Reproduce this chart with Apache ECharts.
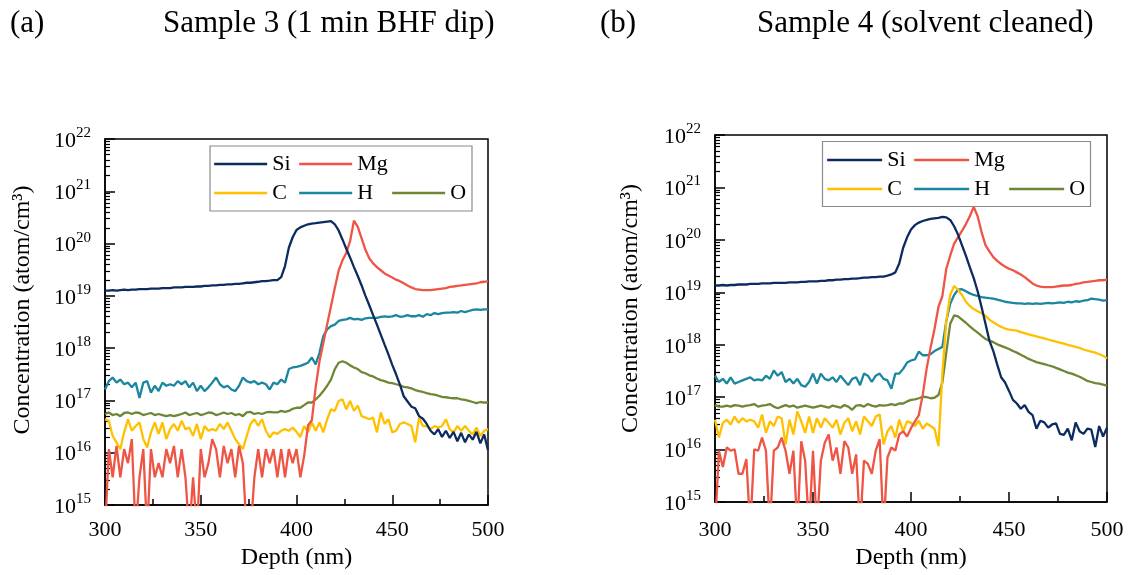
<!DOCTYPE html>
<html>
<head>
<meta charset="utf-8">
<script src="https://cdn.jsdelivr.net/npm/echarts@6/dist/echarts.min.js"></script>
<style>
html,body{margin:0;padding:0;background:#fff;}
#c{width:1130px;height:575px;}
</style>
</head>
<body>
<div id="c"></div>
<script>
// Depth grid (nm)
const depth = [300,302,304,306,308,310,312,314,316,318,320,322,324,326,328,330,332,334,336,338,
340,342,344,346,348,350,352,354,356,358,360,362,364,366,368,370,372,374,376,378,
380,382,384,386,388,390,392,394,396,398,400,402,404,406,408,410,412,414,416,418,
420,422,424,426,428,430,432,434,436,438,440,442,444,446,448,450,452,454,456,458,
460,462,464,466,468,470,472,474,476,478,480,482,484,486,488,490,492,494,496,498,500];

const seriesNames = ['Si','Mg','C','H','O'];
const panelTitles = ['Sample 3 (1 min BHF dip)','Sample 4 (solvent cleaned)'];
const panelTags = ['(a)','(b)'];

// Sample 3 (a), atom/cm3
const siA = [1.26e19,1.26e19,1.29e19,1.26e19,1.29e19,1.32e19,1.29e19,1.32e19,1.32e19,1.35e19,
1.35e19,1.35e19,1.38e19,1.38e19,1.38e19,1.41e19,1.41e19,1.41e19,1.45e19,1.45e19,
1.45e19,1.48e19,1.48e19,1.48e19,1.51e19,1.51e19,1.55e19,1.55e19,1.58e19,1.58e19,
1.62e19,1.62e19,1.66e19,1.66e19,1.70e19,1.70e19,1.74e19,1.78e19,1.78e19,1.82e19,
1.86e19,1.91e19,1.91e19,1.95e19,2.0e19,2.0e19,2.29e19,3.72e19,8.32e19,1.32e20,
1.82e20,2.04e20,2.19e20,2.34e20,2.40e20,2.45e20,2.51e20,2.57e20,2.63e20,2.69e20,
2.34e20,1.78e20,1.20e20,7.94e19,5.37e19,3.55e19,2.40e19,1.58e19,1.0e19,6.61e18,
4.27e18,2.82e18,1.82e18,1.17e18,7.59e17,4.79e17,3.16e17,2.0e17,1.20e17,9.55e16,
7.59e16,7.08e16,5.01e16,4.47e16,3.55e16,2.63e16,2.24e16,2.82e16,2.0e16,2.63e16,
1.91e16,2.51e16,1.66e16,2.40e16,1.58e16,2.24e16,1.78e16,2.51e16,1.51e16,2.24e16,
1.12e16];
const mgA = [3e14,1.17e16,3.39e15,1.35e16,3.39e15,1.17e16,6.31e15,1.82e16,3e14,3.39e15,
1.17e16,3e14,1.17e16,3.39e15,6.31e15,3.39e15,1.17e16,6.31e15,1.35e16,3.39e15,
1.17e16,3.39e15,3e14,3.39e15,3e14,1.17e16,3.39e15,6.31e15,1.82e16,1.17e16,
3.39e15,1.35e16,6.31e15,1.17e16,3.39e15,1.35e16,6.31e15,3e14,3e14,3.39e15,
1.17e16,3.39e15,1.17e16,6.31e15,1.17e16,3.39e15,1.17e16,3.39e15,1.17e16,6.31e15,
1.17e16,3.39e15,8.71e15,3.31e16,4.17e16,1.78e17,5.62e17,1.26e18,2.82e18,6.31e18,
1.41e19,3.02e19,4.79e19,6.61e19,1.12e20,2.75e20,2.09e20,1.26e20,7.59e19,5.25e19,
4.17e19,3.55e19,3.09e19,2.69e19,2.45e19,2.24e19,2.04e19,1.91e19,1.74e19,1.58e19,
1.45e19,1.35e19,1.32e19,1.29e19,1.29e19,1.29e19,1.32e19,1.35e19,1.38e19,1.41e19,
1.48e19,1.51e19,1.55e19,1.58e19,1.62e19,1.66e19,1.70e19,1.74e19,1.82e19,1.86e19,
1.91e19];
const cA = [4.37e16,4.07e16,2.09e16,1.58e16,1.17e16,2.45e16,4.37e16,2.63e16,3.24e16,3.80e16,
1.82e16,1.26e16,2.45e16,3.80e16,2.29e16,3.80e16,1.82e16,2.82e16,3.55e16,2.63e16,
4.07e16,2.82e16,3.02e16,2.09e16,3.55e16,1.82e16,3.24e16,2.63e16,2.82e16,2.63e16,
3.55e16,2.82e16,3.80e16,2.63e16,1.82e16,1.45e16,1.17e16,2.09e16,3.55e16,4.37e16,
3.24e16,4.37e16,2.63e16,1.95e16,2.45e16,2.29e16,2.63e16,2.82e16,2.63e16,3.02e16,
2.51e16,2.0e16,3.24e16,2.45e16,3.80e16,2.63e16,3.80e16,2.45e16,4.37e16,6.76e16,
6.31e16,9.77e16,1.05e17,6.76e16,9.77e16,6.31e16,7.94e16,5.01e16,4.68e16,4.37e16,
4.68e16,2.45e16,5.89e16,3.55e16,4.37e16,2.45e16,2.63e16,3.55e16,3.80e16,3.55e16,
3.24e16,1.58e16,4.68e16,3.24e16,3.24e16,2.82e16,3.24e16,3.02e16,3.24e16,4.37e16,
2.82e16,2.45e16,3.24e16,2.63e16,3.24e16,2.63e16,2.24e16,3.02e16,2.09e16,2.63e16,
2.82e16];
const hA = [1.62e17,2.34e17,2.75e17,2.19e17,2.51e17,2.04e17,2.19e17,1.78e17,2.19e17,1.12e17,
2.19e17,2.34e17,1.41e17,1.91e17,1.51e17,2.19e17,1.91e17,2.04e17,1.91e17,2.34e17,
2.04e17,2.34e17,1.78e17,2.19e17,1.51e17,1.91e17,1.51e17,1.78e17,2.19e17,2.75e17,
2.04e17,1.78e17,1.91e17,1.62e17,1.51e17,1.91e17,2.75e17,2.34e17,2.19e17,2.34e17,
2.04e17,2.19e17,2.04e17,1.62e17,2.19e17,2.04e17,2.51e17,2.19e17,3.98e17,4.27e17,
4.37e17,4.57e17,4.90e17,5.25e17,6.61e17,4.90e17,8.13e17,1.70e18,2.29e18,2.63e18,
2.82e18,3.31e18,3.47e18,3.55e18,3.80e18,3.55e18,3.63e18,3.47e18,3.72e18,3.80e18,
3.80e18,3.80e18,3.98e18,4.07e18,3.98e18,4.07e18,4.27e18,3.98e18,4.07e18,4.27e18,
4.07e18,4.07e18,4.27e18,3.98e18,4.47e18,4.27e18,4.68e18,4.47e18,4.68e18,4.79e18,
4.79e18,4.90e18,4.79e18,5.13e18,4.90e18,5.13e18,5.37e18,5.50e18,5.37e18,5.50e18,
5.50e18];
const oA = [5.50e16,5.89e16,5.25e16,5.50e16,5.01e16,5.75e16,5.89e16,5.50e16,5.89e16,5.75e16,
5.25e16,5.50e16,5.75e16,5.25e16,5.50e16,5.25e16,5.01e16,5.25e16,5.01e16,5.25e16,
5.50e16,5.89e16,5.25e16,5.50e16,5.75e16,5.25e16,5.50e16,5.89e16,5.75e16,5.25e16,
5.50e16,5.89e16,5.50e16,5.75e16,5.25e16,5.50e16,5.01e16,5.89e16,6.03e16,5.50e16,
5.75e16,5.50e16,5.89e16,6.03e16,5.89e16,5.89e16,6.31e16,6.03e16,6.31e16,6.92e16,
7.24e16,7.24e16,8.13e16,9.12e16,9.12e16,1.05e17,1.23e17,1.51e17,1.91e17,2.51e17,
3.98e17,5.25e17,5.62e17,5.25e17,4.68e17,4.27e17,3.98e17,3.47e17,3.31e17,3.02e17,
2.88e17,2.63e17,2.45e17,2.34e17,2.19e17,2.14e17,2.04e17,1.95e17,1.82e17,1.78e17,
1.70e17,1.58e17,1.51e17,1.45e17,1.38e17,1.32e17,1.29e17,1.23e17,1.17e17,1.15e17,
1.12e17,1.10e17,1.10e17,1.05e17,1.02e17,9.77e16,9.33e16,8.91e16,9.33e16,9.12e16,
9.12e16];

// Sample 4 (b), atom/cm3
const siB = [1.35e19,1.35e19,1.38e19,1.35e19,1.38e19,1.38e19,1.41e19,1.41e19,1.41e19,1.45e19,
1.45e19,1.45e19,1.48e19,1.48e19,1.48e19,1.51e19,1.51e19,1.51e19,1.51e19,1.55e19,
1.55e19,1.55e19,1.58e19,1.58e19,1.62e19,1.62e19,1.62e19,1.66e19,1.66e19,1.70e19,
1.70e19,1.74e19,1.74e19,1.78e19,1.78e19,1.82e19,1.82e19,1.86e19,1.91e19,1.91e19,
1.95e19,1.95e19,2.0e19,2.0e19,2.09e19,2.19e19,2.40e19,3.55e19,7.08e19,1.12e20,
1.58e20,1.91e20,2.14e20,2.29e20,2.40e20,2.51e20,2.57e20,2.63e20,2.75e20,2.69e20,
2.40e20,1.82e20,1.26e20,7.94e19,5.01e19,3.02e19,1.86e19,1.05e19,5.25e18,2.51e18,
1.20e18,7.59e17,4.17e17,2.40e17,1.91e17,1.32e17,8.91e16,7.59e16,6.03e16,7.08e16,
5.25e16,4.57e16,2.51e16,3.55e16,3.31e16,2.63e16,3.02e16,3.16e16,2.0e16,1.91e16,
2.51e16,1.51e16,3.31e16,2.24e16,2.0e16,2.51e16,2.40e16,1.12e16,2.82e16,1.78e16,
2.63e16];
const mgB = [3e14,9.55e15,4.68e15,1.10e16,9.55e15,1.02e16,3.47e15,3.47e15,6.61e15,3e14,
1.02e16,9.55e15,1.70e16,9.55e15,3e14,9.55e15,1.10e16,1.70e16,9.55e15,3.47e15,
9.55e15,3e14,1.45e16,6.17e15,3e14,9.55e15,3e14,6.17e15,1.35e16,1.95e16,
6.17e15,1.10e16,3.47e15,1.45e16,1.10e16,3.47e15,8.13e15,3e14,6.17e15,5.37e15,
3.47e15,9.55e15,1.58e16,3e14,7.08e15,1.10e16,9.55e15,1.95e16,2.24e16,1.78e16,
2.57e16,3.47e16,4.57e16,1.12e17,3.55e17,8.91e17,2.0e18,5.25e18,8.51e18,2.82e19,
5.01e19,8.51e19,1.12e20,1.48e20,2.0e20,2.82e20,4.27e20,2.82e20,1.41e20,7.94e19,
6.03e19,4.68e19,3.98e19,3.47e19,3.09e19,2.82e19,2.63e19,2.40e19,2.19e19,1.95e19,
1.70e19,1.48e19,1.35e19,1.29e19,1.26e19,1.26e19,1.26e19,1.29e19,1.32e19,1.35e19,
1.35e19,1.38e19,1.45e19,1.48e19,1.55e19,1.58e19,1.62e19,1.66e19,1.70e19,1.70e19,
1.74e19];
const cB = [3.72e16,1.70e16,3.24e16,3.72e16,3.02e16,4.27e16,3.24e16,3.98e16,3.47e16,3.72e16,
3.47e16,2.63e16,4.68e16,2.09e16,3.47e16,2.82e16,4.27e16,3.98e16,1.26e16,3.72e16,
1.95e16,5.37e16,3.47e16,2.09e16,4.27e16,2.09e16,3.98e16,2.63e16,3.98e16,3.24e16,
2.63e16,3.72e16,1.95e16,3.24e16,3.98e16,2.24e16,3.47e16,1.95e16,4.27e16,3.47e16,
2.82e16,4.27e16,4.68e16,1.26e16,2.24e16,2.82e16,1.70e16,3.72e16,2.24e16,3.47e16,
3.24e16,2.82e16,3.55e16,2.51e16,3.16e16,2.82e16,2.51e16,1.17e16,2.82e17,2.82e18,
8.91e18,1.32e19,1.12e19,8.91e18,6.61e18,5.50e18,4.79e18,4.37e18,3.98e18,3.55e18,
3.02e18,2.69e18,2.40e18,2.19e18,2.04e18,1.95e18,1.91e18,1.86e18,1.74e18,1.66e18,
1.58e18,1.51e18,1.45e18,1.38e18,1.32e18,1.26e18,1.20e18,1.15e18,1.10e18,1.05e18,
1.0e18,9.55e17,9.12e17,8.71e17,8.13e17,7.76e17,7.41e17,7.08e17,6.61e17,6.17e17,
5.50e17];
const hB = [2.57e17,1.95e17,2.24e17,1.82e17,2.40e17,1.82e17,1.95e17,2.09e17,2.24e17,2.40e17,
2.09e17,2.19e17,2.09e17,2.57e17,2.24e17,3.24e17,2.57e17,3.02e17,1.95e17,2.24e17,
1.82e17,2.24e17,1.70e17,1.58e17,1.95e17,2.82e17,1.82e17,2.82e17,2.24e17,2.09e17,
2.40e17,1.95e17,2.57e17,2.09e17,1.70e17,2.24e17,2.40e17,1.70e17,2.82e17,2.57e17,
1.95e17,2.57e17,2.82e17,2.24e17,2.09e17,1.45e17,2.82e17,2.82e17,3.47e17,4.57e17,
5.01e17,5.25e17,7.41e17,6.31e17,6.31e17,6.61e17,7.59e17,8.32e17,9.12e17,2.82e18,
6.03e18,8.91e18,1.12e19,1.15e19,1.05e19,9.55e18,8.91e18,8.51e18,8.13e18,7.94e18,
7.76e18,7.59e18,7.24e18,6.92e18,6.61e18,6.46e18,6.31e18,6.17e18,6.17e18,6.03e18,
6.17e18,6.03e18,6.17e18,6.03e18,6.17e18,6.31e18,6.17e18,6.31e18,6.46e18,6.31e18,
6.61e18,6.46e18,6.76e18,6.61e18,6.92e18,7.08e18,7.59e18,7.41e18,7.24e18,6.92e18,
7.08e18];
const oB = [7.08e16,6.61e16,6.61e16,6.92e16,6.61e16,7.08e16,6.92e16,6.61e16,6.92e16,7.08e16,
7.41e16,6.61e16,6.92e16,7.08e16,7.41e16,6.61e16,6.17e16,6.61e16,7.08e16,6.61e16,
6.92e16,6.31e16,6.61e16,6.92e16,6.61e16,6.31e16,6.61e16,6.92e16,6.61e16,6.31e16,
6.92e16,6.61e16,6.31e16,7.08e16,6.61e16,5.75e16,6.92e16,7.08e16,6.61e16,7.41e16,
6.92e16,6.61e16,7.08e16,6.92e16,7.08e16,7.41e16,7.08e16,7.59e16,7.59e16,8.32e16,
8.91e16,9.12e16,9.55e16,1.02e17,1.0e17,9.55e16,9.77e16,1.10e17,1.91e17,7.08e17,
2.51e18,3.63e18,3.47e18,3.02e18,2.63e18,2.24e18,1.95e18,1.70e18,1.48e18,1.29e18,
1.20e18,1.12e18,1.02e18,9.55e17,8.91e17,8.32e17,7.59e17,7.08e17,6.46e17,5.89e17,
5.37e17,5.01e17,4.68e17,4.47e17,4.27e17,4.07e17,3.89e17,3.63e17,3.39e17,3.16e17,
2.95e17,2.82e17,2.63e17,2.45e17,2.24e17,2.04e17,1.95e17,1.86e17,1.82e17,1.74e17,
1.66e17];

const colors = {Si:'#0c2b5e', Mg:'#ef5545', C:'#ffc000', H:'#1a86a0', O:'#6f8634'};
const FONT = 'Liberation Serif';

const panelData = [
  {Si: siA, Mg: mgA, C: cA, H: hA, O: oA},
  {Si: siB, Mg: mgB, C: cB, H: hB, O: oB}
];

// layout per panel
const L = [
  {left:105, top:139, width:383, height:366, lab:14, nameGapX:40, nameGapY:70, yShift:24,
   leg:{x0:213, x1:298, x2:391, r1:164, r2:193, w:53, box:[210,146,262,65]}},
  {left:715, top:135, width:392, height:374, lab:17, nameGapX:42, nameGapY:72, yShift:20,
   leg:{x0:826, x1:913, x2:1008, r1:160, r2:189, w:55, box:[822.5,141.5,268,65]}}
];

// minor tick positions in decade units (log10 of 2..9 within each decade)
const minorPos = [];
for (let n = 15; n < 22; n++) for (let k = 2; k <= 9; k++) minorPos.push(n + Math.log10(k));

const grid = [], xAxis = [], yAxis = [], series = [], legend = [], graphic = [], title = [];

L.forEach((p, i) => {
  grid.push({left:p.left, top:p.top, width:p.width, height:p.height, show:true,
    borderColor:'#000', borderWidth:1.5, backgroundColor:'transparent', containLabel:false});
  xAxis.push({type:'value', gridIndex:i, min:300, max:500, interval:50,
    name:'Depth (nm)', nameLocation:'middle', nameGap:p.nameGapX,
    nameTextStyle:{fontFamily:FONT, fontSize:24, color:'#000'},
    axisLine:{show:true, lineStyle:{color:'#000', width:1.5}},
    axisTick:{show:true, inside:true, length:10, lineStyle:{color:'#000', width:1.5}},
    minorTick:{show:true, splitNumber:2, length:6, lineStyle:{color:'#000', width:1.5}},
    axisLabel:{fontFamily:FONT, fontSize:22, color:'#000', margin:p.lab},
    splitLine:{show:false}});
  yAxis.push({type:'log', logBase:10, gridIndex:i, min:1e15, max:1e22, splitNumber:7,
    name:'Concentration (atom/cm\u00B3)', nameLocation:'middle', nameGap:p.nameGapY, nameRotate:90,
    nameTextStyle:{fontFamily:FONT, fontSize:24, color:'#000', padding:[0,0,0,p.yShift]},
    axisLine:{show:true, lineStyle:{color:'#000', width:1.5}},
    axisTick:{show:true, inside:true, length:10, lineStyle:{color:'#000', width:1.5}},
    axisLabel:{margin:14, formatter:(v)=>'{a|10}{b|' + Math.round(Math.log10(v)) + '}',
      rich:{a:{fontFamily:FONT, fontSize:22, color:'#000', padding:[4,0,0,0]},
            b:{fontFamily:FONT, fontSize:15, color:'#000', padding:[0,0,12,0]}}},
    splitLine:{show:false}});
  yAxis.push({type:'value', gridIndex:i, min:15, max:22, position:'left',
    axisLine:{show:false}, axisLabel:{show:false}, splitLine:{show:false},
    axisTick:{show:true, inside:true, length:5, customValues:minorPos, lineStyle:{color:'#000', width:1.2}}});

  const d = panelData[i];
  ['O','H','C','Mg','Si'].forEach(name => {
    series.push({type:'line', name:name, xAxisIndex:i, yAxisIndex:i*2,
      data: depth.map((x, j) => [x, d[name][j]]),
      showSymbol:false, symbol:'none', clip:true, animation:false,
      lineStyle:{color:colors[name], width:2.3}, itemStyle:{color:colors[name]}});
  });

  const g = p.leg;
  const items = [['Si', g.x0, g.r1], ['Mg', g.x1, g.r1], ['C', g.x0, g.r2], ['H', g.x1, g.r2], ['O', g.x2, g.r2]];
  items.forEach(it => {
    legend.push({data:[it[0]], left:it[1], top:it[2] - 11, padding:0, itemWidth:g.w, itemHeight:22,
      selectedMode:false, itemStyle:{opacity:0}, lineStyle:{width:2.3},
      textStyle:{fontFamily:FONT, fontSize:22, color:'#000'}});
  });
  graphic.push({type:'rect', shape:{x:g.box[0], y:g.box[1], width:g.box[2], height:g.box[3]},
    style:{fill:'#fff', stroke:'#8a8a8a', lineWidth:1.2}, z:-1, zlevel:0});
});

const tStyle = {fontFamily:FONT, fontSize:31, fontWeight:'normal', color:'#000'};
title.push({text:panelTags[0], left:10, top:8, padding:0, textStyle:tStyle});
title.push({text:panelTitles[0], left:163, top:8, padding:0, textStyle:tStyle});
title.push({text:panelTags[1], left:600, top:8, padding:0, textStyle:tStyle});
title.push({text:panelTitles[1], left:757, top:8, padding:0, textStyle:tStyle});

const chart = echarts.init(document.getElementById('c'), null, {renderer:'canvas'});
chart.setOption({
  backgroundColor:'#fff', animation:false,
  title, grid, xAxis, yAxis, series, legend, graphic
});
</script>
</body>
</html>
